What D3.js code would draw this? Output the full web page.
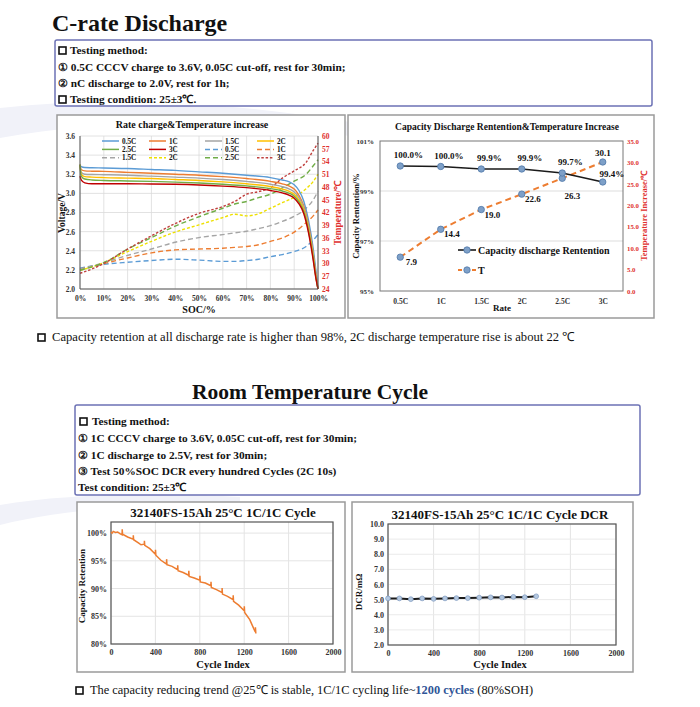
<!DOCTYPE html>
<html>
<head>
<meta charset="utf-8">
<script src="https://cdn.jsdelivr.net/npm/d3@7"></script>
<style>
  body { margin: 0; background: #fff; }
  svg { display: block; }
  text { font-family: 'Liberation Serif', 'Times New Roman', serif; }
</style>
</head>
<body>
<svg id="c" width="700" height="707"></svg>
<script>
// ---- data: rate discharge (voltage / temperature vs SOC) ----
const rates = ["0.5C", "1C", "1.5C", "2C", "2.5C", "3C"];
const rateColors = ["#5B9BD5", "#ED7D31", "#A5A5A5", "#FFC000", "#70AD47", "#C00000"];
const tempColors = ["#5B9BD5", "#ED7D31", "#A5A5A5", "#EEE000", "#70AD47", "#C0403E"];

const socPts = [0, 0.5, 2, 5, 10, 20, 30, 40, 50, 60, 70, 80, 85, 88, 90, 92, 94, 96, 98, 99, 100];
const volt05 = [3.30, 3.28, 3.27, 3.268, 3.265, 3.26, 3.25, 3.24, 3.225, 3.21, 3.19, 3.165, 3.14, 3.12, 3.09, 3.03, 2.92, 2.72, 2.42, 2.22, 2.0];
const volt1 = [3.30, 3.25, 3.235, 3.232, 3.23, 3.22, 3.21, 3.20, 3.19, 3.175, 3.155, 3.125, 3.10, 3.075, 3.045, 2.98, 2.87, 2.67, 2.37, 2.17, 2.0];
const volt15 = [3.30, 3.22, 3.20, 3.197, 3.195, 3.19, 3.18, 3.17, 3.16, 3.145, 3.125, 3.095, 3.07, 3.045, 3.015, 2.955, 2.85, 2.65, 2.36, 2.16, 2.0];
const volt2 = [3.30, 3.20, 3.175, 3.17, 3.165, 3.16, 3.155, 3.145, 3.135, 3.12, 3.10, 3.07, 3.045, 3.02, 2.99, 2.93, 2.83, 2.63, 2.34, 2.15, 2.0];
const volt25 = [3.30, 3.18, 3.15, 3.14, 3.135, 3.13, 3.125, 3.118, 3.108, 3.095, 3.078, 3.05, 3.025, 3.0, 2.97, 2.91, 2.81, 2.61, 2.32, 2.14, 2.0];
const volt3 = [3.18, 3.14, 3.11, 3.10, 3.10, 3.10, 3.098, 3.095, 3.088, 3.076, 3.06, 3.03, 3.005, 2.98, 2.95, 2.89, 2.79, 2.59, 2.30, 2.13, 2.0];
const voltSeries = [volt05, volt1, volt15, volt2, volt25, volt3];

const tempSoc = [0, 5, 10, 20, 30, 40, 50, 60, 65, 70, 75, 80, 85, 90, 95, 98, 100];
const temp05 = [28.9, 29.4, 29.8, 30.3, 30.7, 31.0, 30.8, 30.5, 30.5, 30.7, 31.0, 31.6, 32.1, 32.8, 34.0, 35.5, 36.8];
const temp1 = [28.7, 29.3, 30.0, 31.3, 32.5, 33.2, 33.4, 33.6, 33.8, 34.0, 34.4, 35.2, 36.0, 37.4, 39.6, 41.2, 42.6];
const temp15 = [28.7, 29.4, 30.2, 31.9, 33.4, 35.0, 36.1, 36.8, 37.2, 37.6, 38.2, 38.9, 39.9, 41.1, 43.0, 45.0, 47.0];
const temp2 = [28.4, 29.2, 30.2, 32.8, 35.2, 37.4, 39.1, 40.8, 41.6, 41.2, 41.7, 43.0, 44.3, 45.6, 47.6, 49.3, 51.0];
const temp25 = [28.4, 29.2, 30.2, 33.4, 36.1, 38.8, 41.0, 43.0, 44.0, 44.6, 45.5, 46.3, 47.8, 49.4, 51.0, 53.0, 54.4];
const temp3 = [27.7, 28.7, 30.0, 33.4, 36.5, 39.4, 41.8, 43.4, 44.6, 46.3, 46.9, 47.8, 50.1, 51.8, 53.8, 56.6, 58.3];
const tempSeries = [temp05, temp1, temp15, temp2, temp25, temp3];

const voltTicks = [2.0, 2.2, 2.4, 2.6, 2.8, 3.0, 3.2, 3.4, 3.6];
const tempTicks = [24, 27, 30, 33, 36, 39, 42, 45, 48, 51, 54, 57, 60];
const socTicks = [0, 10, 20, 30, 40, 50, 60, 70, 80, 90, 100];

// ---- data: capacity retention & temperature rise per rate ----
const retention = [100.0, 99.98, 99.88, 99.88, 99.72, 99.36];
const retLabels = ["100.0%", "100.0%", "99.9%", "99.9%", "99.7%", "99.4%"];
const tempRise = [7.9, 14.4, 19.0, 22.6, 26.3, 30.1];
const retTicks = [95, 97, 99, 101];
const riseTicks = [0, 5, 10, 15, 20, 25, 30, 35];

// ---- data: room temperature cycle ----
const cycleRet = [
  [0, 100.2], [10, 100.0], [20, 100.3], [40, 100.1], [60, 100.2], [80, 99.9],
  [100, 99.7], [101, 100.7], [104, 99.8], [150, 99.3], [200, 98.9], [201, 99.6], [204, 98.8],
  [250, 98.2], [270, 97.9], [300, 98.0], [301, 98.6], [304, 97.8], [350, 97.2],
  [400, 96.2], [401, 97.0], [404, 96.0], [450, 95.1], [500, 94.4], [501, 95.3], [504, 94.3],
  [550, 94.0], [600, 93.4], [601, 94.2], [604, 93.2], [650, 92.9], [700, 92.4], [701, 93.2], [704, 92.2],
  [750, 91.9], [800, 91.5], [801, 92.3], [804, 91.2], [850, 91.0], [900, 90.5], [901, 91.2], [904, 90.2],
  [950, 89.8], [1000, 89.3], [1001, 90.1], [1004, 89.0], [1050, 88.6], [1100, 88.0], [1101, 88.8], [1104, 87.7],
  [1150, 87.0], [1200, 86.0], [1201, 86.8], [1204, 85.7], [1250, 84.4], [1290, 82.6], [1300, 82.2],
  [1301, 83.0], [1305, 81.9]
];
const dcrCycles = [0, 100, 200, 300, 400, 500, 600, 700, 800, 900, 1000, 1100, 1200, 1300];
const dcrValues = [5.08, 5.08, 5.03, 5.08, 5.05, 5.08, 5.10, 5.10, 5.13, 5.15, 5.14, 5.18, 5.16, 5.22];
const cycleTicks = [0, 400, 800, 1200, 1600, 2000];
const capTicks = [80, 85, 90, 95, 100];
const dcrTicks = [2, 3, 4, 5, 6, 7, 8, 9, 10];

const svg = d3.select("#c");

// faint background swooshes
svg.append("path")
  .attr("d", "M0,108 C110,96 230,102 350,122 L350,136 C230,120 110,118 0,138 Z")
  .attr("fill", "#F1F2F9");
svg.append("path")
  .attr("d", "M0,505 C60,495 140,492 240,497 L240,505 C140,503 60,510 0,525 Z")
  .attr("fill", "#F1F2F9");

function bullet(x, y) {
  svg.append("rect").attr("x", x).attr("y", y - 7).attr("width", 7).attr("height", 7)
    .attr("fill", "none").attr("stroke", "#111").attr("stroke-width", 1.6);
}
function txt(x, y, s, size, opts) {
  opts = opts || {};
  return svg.append("text").attr("x", x).attr("y", y).text(s)
    .attr("font-size", size)
    .attr("font-weight", opts.bold ? "bold" : null)
    .attr("fill", opts.fill || "#111")
    .attr("text-anchor", opts.anchor || "start");
}
function panel(x, y, w, h) {
  svg.append("rect").attr("x", x).attr("y", y).attr("width", w).attr("height", h)
    .attr("fill", "#fff").attr("stroke", "#9A9A9A").attr("stroke-width", 1.5);
}
function styleAxis(g, color, size) {
  g.select(".domain").remove();
  g.selectAll("text").attr("font-size", size).attr("font-weight", "bold")
    .attr("fill", color).attr("font-family", "'Liberation Serif','Times New Roman',serif");
}
const dash = k => k === 5 ? "2.5,1.8" : (k === 3 ? "3,2" : "5,3");

// ---- header & method box 1 ----
txt(52, 31, "C-rate Discharge", 24, {bold: true});
svg.append("rect").attr("x", 55).attr("y", 40).attr("width", 597).attr("height", 66).attr("rx", 2)
  .attr("fill", "#fff").attr("stroke", "#6C72B5").attr("stroke-width", 1.5);
bullet(59, 54); txt(70, 54, "Testing method:", 11.3, {bold: true});
txt(58, 71, "① 0.5C CCCV charge to 3.6V,  0.05C cut-off, rest for 30min;", 11.3, {bold: true});
txt(58, 87, "② nC discharge to 2.0V, rest for 1h;", 11.3, {bold: true});
bullet(59, 103); txt(70, 103, "Testing condition: 25±3℃.", 11.3, {bold: true});

// ---- chart 1: rate charge & temperature ----
panel(57, 115, 288, 203);
{
  const x = d3.scaleLinear().domain([0, 100]).range([80, 318]);
  const yv = d3.scaleLinear().domain([2.0, 3.6]).range([289, 136]);
  const yt = d3.scaleLinear().domain([24, 60]).range([289, 136]);
  const g = svg.append("g");
  g.selectAll(".vg").data(socTicks).enter().append("line")
    .attr("x1", d => x(d)).attr("x2", d => x(d)).attr("y1", 136).attr("y2", 289)
    .attr("stroke", "#DADADA").attr("stroke-width", 0.8);
  g.selectAll(".hg").data(voltTicks).enter().append("line")
    .attr("x1", 80).attr("x2", 318).attr("y1", d => yv(d)).attr("y2", d => yv(d))
    .attr("stroke", "#DADADA").attr("stroke-width", 0.8);

  const vline = d3.line().x((d, i) => x(socPts[i])).y(d => yv(d)).curve(d3.curveMonotoneX);
  const tline = d3.line().x((d, i) => x(tempSoc[i])).y(d => yt(d)).curve(d3.curveMonotoneX);
  tempSeries.forEach((s, k) => {
    g.append("path").attr("d", tline(s)).attr("fill", "none")
      .attr("stroke", tempColors[k]).attr("stroke-width", 1.4).attr("stroke-dasharray", dash(k));
  });
  voltSeries.forEach((s, k) => {
    g.append("path").attr("d", vline(s)).attr("fill", "none")
      .attr("stroke", rateColors[k]).attr("stroke-width", 1.4);
  });

  g.append("line").attr("x1", 80).attr("x2", 80).attr("y1", 136).attr("y2", 289).attr("stroke", "#555");
  g.append("line").attr("x1", 318).attr("x2", 318).attr("y1", 136).attr("y2", 289).attr("stroke", "#555");
  g.append("line").attr("x1", 80).attr("x2", 318).attr("y1", 289).attr("y2", 289).attr("stroke", "#555");

  styleAxis(svg.append("g").attr("transform", "translate(80,0)")
    .call(d3.axisLeft(yv).tickValues(voltTicks).tickFormat(d3.format(".1f")).tickSize(0).tickPadding(5)), "#333", 7.5);
  styleAxis(svg.append("g").attr("transform", "translate(318,0)")
    .call(d3.axisRight(yt).tickValues(tempTicks).tickSize(0).tickPadding(4)), "#E0302E", 7.5);
  styleAxis(svg.append("g").attr("transform", "translate(0,289)")
    .call(d3.axisBottom(x).tickValues(socTicks).tickFormat(d => d + "%").tickSize(0).tickPadding(7)), "#333", 7.5);

  txt(192, 128, "Rate charge&Temperature increase", 10, {bold: true, anchor: "middle"});
  txt(199, 313, "SOC/%", 10, {bold: true, anchor: "middle"});
  txt(0, 0, "Voltage/V", 9.5, {bold: true, anchor: "middle"})
    .attr("transform", "translate(65,213) rotate(-90)");
  txt(0, 0, "Temperature/℃", 9.5, {bold: true, anchor: "middle", fill: "#E0302E"})
    .attr("transform", "translate(341,213) rotate(-90)");

  // legend: 6 solid then 6 dashed, 4 per row
  const legendItems = rates.map((r, k) => ({name: r, k, dash: false}))
    .concat(rates.map((r, k) => ({name: r, k, dash: true})));
  const colX = [102, 149, 205, 257];
  legendItems.forEach((it, i) => {
    const cx = colX[i % 4], cy = 141 + Math.floor(i / 4) * 8.4;
    svg.append("line").attr("x1", cx).attr("x2", cx + 17).attr("y1", cy).attr("y2", cy)
      .attr("stroke", it.dash ? tempColors[it.k] : rateColors[it.k]).attr("stroke-width", 1.5)
      .attr("stroke-dasharray", it.dash ? dash(it.k) : null);
    txt(cx + 20, cy + 2.6, it.name, 7.2, {bold: true});
  });
}

// ---- chart 2: capacity retention & temperature increase ----
panel(348, 115, 306, 203);
{
  const x = d3.scalePoint().domain(rates).range([380, 623]).padding(0.5);
  const yl = d3.scaleLinear().domain([95, 101]).range([291, 141]);
  const yr = d3.scaleLinear().domain([0, 35]).range([291, 141]);
  const g = svg.append("g");
  g.selectAll(".hg").data([97, 99]).enter().append("line")
    .attr("x1", 380).attr("x2", 623).attr("y1", d => yl(d)).attr("y2", d => yl(d))
    .attr("stroke", "#DDDDDD");
  g.append("rect").attr("x", 380).attr("y", 141).attr("width", 243).attr("height", 150)
    .attr("fill", "none").attr("stroke", "#777").attr("stroke-width", 1);

  styleAxis(svg.append("g").attr("transform", "translate(380,0)")
    .call(d3.axisLeft(yl).tickValues(retTicks).tickFormat(d => d + "%").tickSize(0).tickPadding(6)), "#333", 7);
  styleAxis(svg.append("g").attr("transform", "translate(623,0)")
    .call(d3.axisRight(yr).tickValues(riseTicks).tickFormat(d3.format(".1f")).tickSize(0).tickPadding(4)), "#E0302E", 6.8);
  styleAxis(svg.append("g").attr("transform", "translate(0,291)")
    .call(d3.axisBottom(x).tickSize(0).tickPadding(8)), "#333", 7.5);

  const rl = d3.line().x((d, i) => x(rates[i])).y(d => yl(d));
  const tl = d3.line().x((d, i) => x(rates[i])).y(d => yr(d));
  g.append("path").attr("d", tl(tempRise)).attr("fill", "none").attr("stroke", "#ED7D31")
    .attr("stroke-width", 2).attr("stroke-dasharray", "6,4");
  g.append("path").attr("d", rl(retention)).attr("fill", "none").attr("stroke", "#1A1A1A").attr("stroke-width", 1.6);

  const marker = (sel) => sel.attr("r", 3.2).attr("fill", "#7EA0C8").attr("stroke", "#4F77A8").attr("stroke-width", 0.8);
  g.selectAll(".tp").data(tempRise).enter().append("circle")
    .attr("cx", (d, i) => x(rates[i])).attr("cy", d => yr(d)).call(marker);
  g.selectAll(".rp").data(retention).enter().append("circle")
    .attr("cx", (d, i) => x(rates[i])).attr("cy", d => yl(d)).call(marker);

  retLabels.forEach((s, i) => {
    const px = x(rates[i]), py = yl(retention[i]);
    if (i === 5) txt(px + 9, py - 5, s, 9, {bold: true, anchor: "middle"});
    else txt(px + 8, py - 8, s, 9, {bold: true, anchor: "middle"});
  });
  tempRise.forEach((v, i) => {
    const px = x(rates[i]), py = yr(v);
    const s = d3.format(".1f")(v);
    if (i === 5) txt(px, py - 6, s, 9, {bold: true, anchor: "middle"});
    else if (i === 4) txt(px + 10, py + 21, s, 9, {bold: true, anchor: "middle"});
    else txt(px + 11, py + 8, s, 9, {bold: true, anchor: "middle"});
  });

  // legend
  g.append("line").attr("x1", 458).attr("x2", 476).attr("y1", 250).attr("y2", 250).attr("stroke", "#1A1A1A").attr("stroke-width", 1.6);
  g.append("circle").attr("cx", 467).attr("cy", 250).call(marker);
  txt(478, 254, "Capacity discharge Rentention", 10, {bold: true});
  g.append("line").attr("x1", 458).attr("x2", 476).attr("y1", 270).attr("y2", 270).attr("stroke", "#ED7D31")
    .attr("stroke-width", 2).attr("stroke-dasharray", "4,3");
  g.append("circle").attr("cx", 467).attr("cy", 270).call(marker);
  txt(478, 274, "T", 10, {bold: true});

  txt(507, 130, "Capacity  Discharge  Rentention&Temperature  Increase", 9.5, {bold: true, anchor: "middle"});
  txt(502, 311, "Rate", 9, {bold: true, anchor: "middle"});
  txt(0, 0, "Capacity Rentention/%", 8.5, {bold: true, anchor: "middle"})
    .attr("transform", "translate(359,216) rotate(-90)");
  txt(0, 0, "Temperature Increase/℃", 8.5, {bold: true, anchor: "middle", fill: "#E0302E"})
    .attr("transform", "translate(647,216) rotate(-90)");
}

// ---- caption 1 ----
bullet(38, 341);
txt(52, 341, "Capacity retention at all discharge rate is higher than 98%, 2C discharge temperature rise is about 22 ℃", 12.6);

// ---- header & method box 2 ----
txt(192, 399, "Room Temperature Cycle", 21.5, {bold: true});
svg.append("rect").attr("x", 75).attr("y", 405).attr("width", 565).attr("height", 90).attr("rx", 2)
  .attr("fill", "#fff").attr("stroke", "#6C72B5").attr("stroke-width", 1.5);
bullet(80, 425); txt(92, 425, "Testing method:", 11.3, {bold: true});
txt(78, 442, "① 1C CCCV charge to 3.6V, 0.05C cut-off, rest for 30min;", 11.3, {bold: true});
txt(78, 459, "② 1C discharge to 2.5V, rest for 30min;", 11.3, {bold: true});
txt(78, 475, "③ Test 50%SOC DCR  every hundred Cycles (2C 10s)", 11.3, {bold: true});
txt(78, 491, "Test condition: 25±3℃", 11.3, {bold: true});

// ---- chart 3: cycle retention ----
panel(77, 502, 268, 170);
{
  const x = d3.scaleLinear().domain([0, 2000]).range([111, 333]);
  const y = d3.scaleLinear().domain([80, 102]).range([644, 522]);
  const g = svg.append("g");
  g.selectAll(".vg").data(cycleTicks).enter().append("line")
    .attr("x1", d => x(d)).attr("x2", d => x(d)).attr("y1", 522).attr("y2", 644).attr("stroke", "#E4E4E4");
  g.selectAll(".hg").data(capTicks).enter().append("line")
    .attr("x1", 111).attr("x2", 333).attr("y1", d => y(d)).attr("y2", d => y(d)).attr("stroke", "#E4E4E4");
  g.append("rect").attr("x", 111).attr("y", 522).attr("width", 222).attr("height", 122)
    .attr("fill", "none").attr("stroke", "#555").attr("stroke-width", 1.2);
  g.append("path").attr("d", d3.line().x(d => x(d[0])).y(d => y(d[1]))(cycleRet))
    .attr("fill", "none").attr("stroke", "#ED7D31").attr("stroke-width", 1.5);
  styleAxis(svg.append("g").attr("transform", "translate(111,0)")
    .call(d3.axisLeft(y).tickValues(capTicks).tickFormat(d => d + "%").tickSize(0).tickPadding(4)), "#333", 8);
  styleAxis(svg.append("g").attr("transform", "translate(0,644)")
    .call(d3.axisBottom(x).tickValues(cycleTicks).tickFormat(d3.format("d")).tickSize(0).tickPadding(5)), "#333", 8);
  txt(223, 517, "32140FS-15Ah 25°C 1C/1C Cycle", 13, {bold: true, anchor: "middle"});
  txt(223, 668, "Cycle Index", 10.5, {bold: true, anchor: "middle"});
  txt(0, 0, "Capacity Retention", 9, {bold: true, anchor: "middle"})
    .attr("transform", "translate(85,586) rotate(-90)");
}

// ---- chart 4: cycle DCR ----
panel(352, 502, 281, 170);
{
  const x = d3.scaleLinear().domain([0, 2000]).range([388, 616]);
  const y = d3.scaleLinear().domain([2, 10]).range([645, 524]);
  const g = svg.append("g");
  g.selectAll(".vg").data(cycleTicks).enter().append("line")
    .attr("x1", d => x(d)).attr("x2", d => x(d)).attr("y1", 524).attr("y2", 645).attr("stroke", "#E4E4E4");
  g.selectAll(".hg").data(dcrTicks).enter().append("line")
    .attr("x1", 388).attr("x2", 616).attr("y1", d => y(d)).attr("y2", d => y(d)).attr("stroke", "#EAEAEA");
  g.append("rect").attr("x", 388).attr("y", 524).attr("width", 228).attr("height", 121)
    .attr("fill", "none").attr("stroke", "#555").attr("stroke-width", 1.2);
  g.append("path").attr("d", d3.line().x((d, i) => x(dcrCycles[i])).y(d => y(d))(dcrValues))
    .attr("fill", "none").attr("stroke", "#1A1A1A").attr("stroke-width", 2);
  g.selectAll(".dp").data(dcrValues).enter().append("circle")
    .attr("cx", (d, i) => x(dcrCycles[i])).attr("cy", d => y(d)).attr("r", 2.4)
    .attr("fill", "#B4C8E0").attr("stroke", "#7C98BE").attr("stroke-width", 0.7);
  styleAxis(svg.append("g").attr("transform", "translate(388,0)")
    .call(d3.axisLeft(y).tickValues(dcrTicks).tickFormat(d3.format(".1f")).tickSize(0).tickPadding(4)), "#333", 8);
  styleAxis(svg.append("g").attr("transform", "translate(0,645)")
    .call(d3.axisBottom(x).tickValues(cycleTicks).tickFormat(d3.format("d")).tickSize(0).tickPadding(5)), "#333", 8);
  txt(500, 519, "32140FS-15Ah 25°C 1C/1C Cycle DCR", 13, {bold: true, anchor: "middle"});
  txt(500, 668, "Cycle Index", 10.5, {bold: true, anchor: "middle"});
  txt(0, 0, "DCR/mΩ", 9, {bold: true, anchor: "middle"})
    .attr("transform", "translate(362,592) rotate(-90)");
}

// ---- caption 2 ----
bullet(76, 694);
const cap2 = txt(90, 694, "The capacity reducing trend @25℃ is stable, 1C/1C cycling life~", 12.4);
cap2.append("tspan").text("1200 cycles").attr("font-weight", "bold").attr("fill", "#2F5597");
cap2.append("tspan").text(" (80%SOH)");
</script>
</body>
</html>
